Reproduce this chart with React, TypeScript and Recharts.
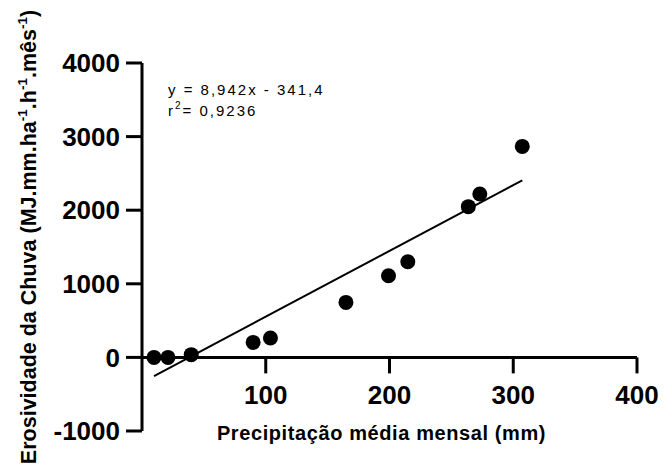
import { ScatterChart, Scatter, XAxis, YAxis, ReferenceLine, Label, Customized } from 'recharts'

const rainMm = [9.7, 21, 39.8, 89.8, 103.8, 164.8, 199.2, 214.8, 263.7, 273, 307.3]
const erosivity = [0, 0, 37, 204, 264, 747, 1110, 1300, 2048, 2220, 2867]

const xTicks = [100, 200, 300, 400]
const yTicks = [-1000, 0, 1000, 2000, 3000, 4000]

const SLOPE = 8.942
const INTERCEPT = -341.4

const W = 660
const H = 465
const MARGIN = { top: 55, right: 31, bottom: 0, left: 44 }
const X_AXIS_H = 42
const Y_MIN = -1000
const Y_MAX = 4000
const FONT = '"Liberation Sans", Arial, sans-serif'

// where y = 0 falls inside the plot (the x axis crosses there)
const PLOT_H = H - MARGIN.top - MARGIN.bottom - X_AXIS_H
const ZERO_Y = MARGIN.top + (Y_MAX / (Y_MAX - Y_MIN)) * PLOT_H

const points = rainMm.map((x, i) => ({ x, y: erosivity[i] }))
const xMin = Math.min(...rainMm)
const xMax = Math.max(...rainMm)
const fit = [
  { x: xMin, y: SLOPE * xMin + INTERCEPT },
  { x: xMax, y: SLOPE * xMax + INTERCEPT },
]

const Dot = (props: any) => <circle cx={props.cx} cy={props.cy} r={7.5} fill="#000" />
const NoDot = () => <g />

const XTick = (props: any) => {
  const { x, payload } = props
  return (
    <g>
      <line x1={x} x2={x} y1={ZERO_Y} y2={ZERO_Y + 16} stroke="#000" strokeWidth={3} />
      <text x={x} y={ZERO_Y + 47} textAnchor="middle" fontSize={26} fontWeight={700} fontFamily={FONT} fill="#000">
        {payload.value}
      </text>
    </g>
  )
}

const XTitle = (props: any) => {
  const vb = props.viewBox
  return (
    <text x={vb.x + vb.width / 2 - 8} y={vb.y + 9} textAnchor="middle" fontSize={20} letterSpacing={0.6} fontWeight={700} fontFamily={FONT} fill="#000">
      Precipitação média mensal (mm)
    </text>
  )
}

const YTitle = () => {
  const cx = 28
  const cy = 229
  const sup = { fontSize: 13.5, dy: -9 }
  return (
    <text x={cx} y={cy} transform={`rotate(-90, ${cx}, ${cy})`} textAnchor="middle" fontSize={21.5} fontWeight={700} fontFamily={FONT} fill="#000">
      <tspan>Erosividade da Chuva (MJ.mm.ha</tspan>
      <tspan fontSize={sup.fontSize} dy={sup.dy}>-1</tspan>
      <tspan dy={9}>.h</tspan>
      <tspan fontSize={sup.fontSize} dy={sup.dy}>-1</tspan>
      <tspan dy={9}>.mês</tspan>
      <tspan fontSize={sup.fontSize} dy={sup.dy}>-1</tspan>
      <tspan dy={9}>)</tspan>
    </text>
  )
}

const Equation = () => (
  <g fontFamily={FONT} fontSize={15} letterSpacing={2} fill="#000">
    <text x={160} y={87}>y = 8,942x - 341,4</text>
    <text x={160} y={108}>
      r<tspan fontSize={10} dy={-7}>2</tspan>
      <tspan dy={7}>= 0,9236</tspan>
    </text>
  </g>
)

export default function App() {
  return (
    <ScatterChart width={W} height={H} margin={MARGIN}>
      <XAxis
        type="number"
        dataKey="x"
        domain={[0, 400]}
        ticks={xTicks}
        axisLine={false}
        tickLine={false}
        tick={<XTick />}
        height={X_AXIS_H}
      >
        <Label content={<XTitle />} />
      </XAxis>
      <YAxis
        type="number"
        dataKey="y"
        domain={[Y_MIN, Y_MAX]}
        ticks={yTicks}
        width={90}
        tickSize={16}
        tickMargin={6}
        axisLine={{ stroke: '#000', strokeWidth: 3 }}
        tickLine={{ stroke: '#000', strokeWidth: 3 }}
        tick={{ fill: '#000', fontSize: 26, fontWeight: 700, fontFamily: FONT }}
      >
        <Label content={<YTitle />} />
      </YAxis>
      <ReferenceLine y={0} stroke="#000" strokeWidth={3} />
      <Scatter data={fit} line={{ stroke: '#000', strokeWidth: 2 }} shape={<NoDot />} isAnimationActive={false} />
      <Scatter data={points} shape={<Dot />} isAnimationActive={false} />
      <Customized component={<Equation />} />
    </ScatterChart>
  )
}
